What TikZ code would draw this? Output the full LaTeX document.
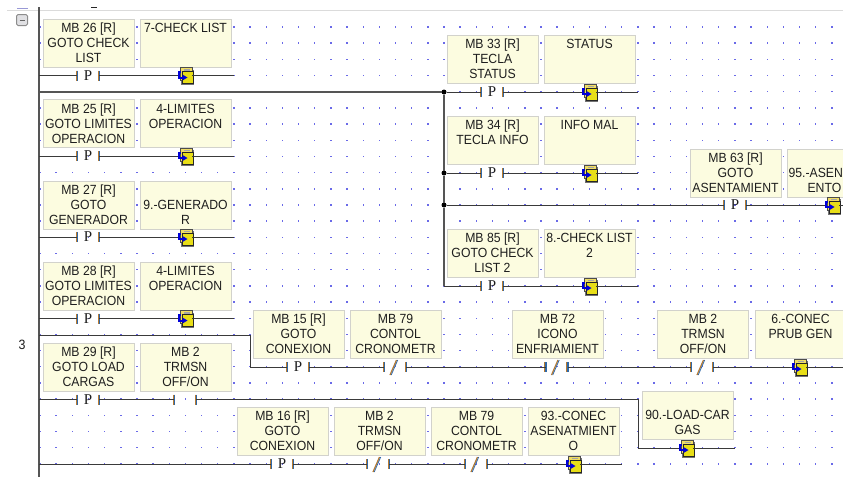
\documentclass[tikz,border=0pt]{standalone}
\usepackage{fontspec}
\setmainfont{Liberation Sans}[FakeStretch=0.92]
\newfontfamily\pfont{Liberation Serif}
\definecolor{boxfill}{HTML}{FCFCE0}
\definecolor{boxedge}{HTML}{D2D2CC}
\definecolor{wirec}{HTML}{3A3A3A}
\definecolor{railc}{HTML}{555555}
\definecolor{dotc}{HTML}{6A6AE8}
\definecolor{baror}{HTML}{B87A30}
\definecolor{barbl}{HTML}{2F68A8}
\definecolor{txtc}{HTML}{1E1E1E}
\tikzset{
  fbbox/.style={draw=boxedge,line width=1pt,fill=boxfill,anchor=north west,inner sep=0pt,outer sep=0pt,
    minimum width=91pt,minimum height=48pt,text=txtc,font=\fontsize{13.3}{15}\selectfont},
  wire/.style={draw=wirec,line width=1pt},
  rail/.style={draw=railc,line width=1.3pt},
  mainrail/.style={draw=railc,line width=1.1pt},
  contact/.style={inner sep=0pt,outer sep=0pt,minimum width=22pt,minimum height=10pt,text=txtc,font=\pfont\fontsize{15}{15}\selectfont},
  iconn/.style={inner sep=0pt,outer sep=0pt,minimum width=14pt,minimum height=8pt},
  junction/.style={circle,fill=black,inner sep=0pt,outer sep=0pt,minimum size=5pt},
}
\newcommand{\fbx}[4]{\node[fbbox] (#1) at (#2,#3) {\parbox[c][47pt][t]{90pt}{\centering\rule{0pt}{13pt}#4}};}
\newcommand{\contactbars}{%
  \draw[baror,line width=1.1pt] (-11.5,-5) -- (-11.5,5) (10.5,-5) -- (10.5,5);
  \draw[barbl,line width=1.1pt] (-10.5,-5) -- (-10.5,5) (11.5,-5) -- (11.5,5);}
\newcommand{\pct}[3]{\begin{scope}[shift={(#2,#3)}]\node[contact] (#1) at (0,0) {P};\contactbars\end{scope}}
\newcommand{\nct}[3]{\begin{scope}[shift={(#2,#3)}]\node[contact] (#1) at (0,0) {};\contactbars
  \draw[baror,line width=1.2pt] (-5,8) -- (1.5,-7);\draw[barbl,line width=.8pt] (-3.8,8) -- (2.7,-7);\end{scope}}
\newcommand{\oct}[3]{\begin{scope}[shift={(#2,#3)}]\node[contact] (#1) at (0,0) {};\contactbars\end{scope}}
\newcommand{\icn}[3]{\begin{scope}[shift={(#2,#3)}]\node[iconn] (#1) at (0,0) {};
  \fill[black!55] (-4,-6) rectangle (9,9.5);
  \draw[fill=yellow!65!brown!70,draw=black!70,line width=.8pt] (-5,-8) rectangle (7,5);
  \draw[fill=yellow!90!black,draw=black!85,line width=.8pt] (-3,-4) rectangle (8,8);
  \fill[black!35] (-1,-6.5) rectangle (5,-5);
  \draw[blue!85!black,line width=2pt] (-4,-3.5) -- (-6.5,-3.5) -- (-6.5,2) -- (-2,2);
  \fill[blue!85!black] (-2.5,-1) -- (2.5,2) -- (-2.5,5) -- cycle;
\end{scope}}
\begin{document}
\begin{tikzpicture}[x=1pt,y=-1pt]
\useasboundingbox (0,0) rectangle (843,477);
\fill[white] (0,0) rectangle (843,477);
\clip (0,0) rectangle (843,477);
% grid of dots
\foreach \i in {0,...,49}{\foreach \j in {0,...,27}{
  \fill[dotc] ({40+16.16*\i-.7},{27+16.18*\j-.7}) rectangle ++(1.4,1.4);}}
% window furniture
\fill[white] (0,0) rectangle (843,12);
\draw[black!14,line width=1.6pt] (7,10.5) -- (843,10.5);
\draw[black!85,line width=1pt] (91,7) -- (97,7);
\draw[black!40!blue!40,line width=1pt] (17,8) -- (28,8);
\draw[rounded corners=1.5pt,draw=black!45,fill=blue!10!black!12,line width=1pt] (16.5,14.5) rectangle (27.5,25.5);
\draw[black!60,line width=1pt] (19.5,20) -- (24.5,20);
\node[text=txtc,font=\fontsize{13.5}{15}\selectfont] (rung) at (22,345) {3};
% boxes
\fbx{a1}{43}{19}{MB 26 [R]\\GOTO CHECK\\LIST}
\fbx{a2}{140}{19}{7-CHECK LIST}
\fbx{b1}{43}{99.5}{MB 25 [R]\\GOTO LIMITES\\OPERACION}
\fbx{b2}{140}{99.5}{4-LIMITES\\OPERACION}
\fbx{c1}{43}{181}{MB 27 [R]\\GOTO\\GENERADOR}
\fbx{c2}{140}{181}{\mbox{}\\9.-GENERADO\\R}
\fbx{d1}{43}{262}{MB 28 [R]\\GOTO LIMITES\\OPERACION}
\fbx{d2}{140}{262}{4-LIMITES\\OPERACION}
\fbx{e1}{43}{343}{MB 29 [R]\\GOTO LOAD\\CARGAS}
\fbx{e2}{140}{343}{MB 2\\TRMSN\\OFF/ON}
\fbx{f1}{447}{35}{MB 33 [R]\\TECLA\\STATUS}
\fbx{f2}{544}{35}{STATUS}
\fbx{g1}{447}{116}{MB 34 [R]\\TECLA INFO}
\fbx{g2}{544}{116}{INFO MAL}
\fbx{h1}{447}{229}{MB 85 [R]\\GOTO CHECK\\LIST 2}
\fbx{h2}{544}{229}{8.-CHECK LIST\\2}
\fbx{i1}{690}{149}{MB 63 [R]\\GOTO\\ASENTAMIENT}
\node[fbbox] (i2) at (787,149) {\parbox[c][47pt][t]{90pt}{\rule{0pt}{13pt}\\\hspace*{1pt}95.-ASEN\\\hspace*{20pt}ENTO}};
\fbx{k1}{253}{310}{MB 15 [R]\\GOTO\\CONEXION}
\fbx{k2}{350}{310}{MB 79\\CONTOL\\CRONOMETR}
\fbx{k3}{512}{310}{MB 72\\ICONO\\ENFRIAMIENT}
\fbx{k4}{657.5}{310}{MB 2\\TRMSN\\OFF/ON}
\fbx{k5}{755}{310}{6.-CONEC\\PRUB GEN}
\fbx{m1}{237}{407}{MB 16 [R]\\GOTO\\CONEXION}
\fbx{m2}{334}{407}{MB 2\\TRMSN\\OFF/ON}
\fbx{m3}{431}{407}{MB 79\\CONTOL\\CRONOMETR}
\fbx{m4}{528}{407}{93.-CONEC\\ASENATMIENT\\O}
\fbx{n1}{642}{391}{\mbox{}\\90.-LOAD-CAR\\GAS}
% contacts and icons
\pct{pa}{88}{75.5}\icn{ia}{185}{75.5}
\pct{pb}{88}{156}\icn{ib}{185}{156}
\pct{pc}{88}{237}\icn{ic}{185}{237}
\pct{pd}{88}{318.5}\icn{id}{185}{318.5}
\pct{pe}{88}{399.5}\oct{qe}{185}{399.5}
\pct{pf}{492}{92}\icn{if}{589}{92}
\pct{pg}{492}{173}\icn{ig}{589}{173}
\pct{ph}{492}{286}\icn{ih}{589}{286}
\pct{pi}{735}{205}\icn{ii}{832}{205}
\pct{pk}{298}{367}\nct{qk}{395}{367}\nct{rk}{556.5}{367}\nct{sk}{702}{367}\icn{ik}{799}{367}
\pct{pm}{282}{464}\nct{qm}{378}{464}\nct{rm}{476}{464}\icn{im}{573}{464}
\icn{in}{686}{448}
\node[junction] (j1) at (444,92) {};
\node[junction] (j2) at (444,173) {};
\node[junction] (j3) at (444,205) {};
% free ends
\coordinate (top) at (39,7);\coordinate (bot) at (39,477);
\coordinate (ta) at (39,75.5);\coordinate (ea) at (234,75.5);
\coordinate (tb) at (39,156);\coordinate (eb) at (234,156);
\coordinate (tc) at (39,237);\coordinate (ec) at (234,237);
\coordinate (td) at (39,318.5);\coordinate (ed) at (234,318.5);
\coordinate (te) at (39,399.5);\coordinate (cn) at (638,399.5);\coordinate (dn) at (638,448);\coordinate (en) at (735,448);
\coordinate (tr) at (39,92);
\coordinate (ef) at (638,92);\coordinate (eg) at (638,173);\coordinate (ch) at (444,286);\coordinate (eh) at (638,286);
\coordinate (ei) at (843,205);
\coordinate (tk) at (39,335);\coordinate (uk) at (250,335);\coordinate (vk) at (250,367);\coordinate (ek) at (843,367);
\coordinate (tm) at (39,464);\coordinate (em) at (622,464);
% wires
\draw[mainrail] (top) -- (bot);
\draw[rail] (tr) -- (j1) -- (j2) -- (j3) -- (ch);
\draw[wire] (ta) -- (pa) -- (ia) -- (ea);
\draw[wire] (tb) -- (pb) -- (ib) -- (eb);
\draw[wire] (tc) -- (pc) -- (ic) -- (ec);
\draw[wire] (td) -- (pd) -- (id) -- (ed);
\draw[wire] (te) -- (pe) -- (qe) -- (cn) -- (dn) -- (in) -- (en);
\draw[wire] (j1) -- (pf) -- (if) -- (ef);
\draw[wire] (j2) -- (pg) -- (ig) -- (eg);
\draw[wire] (ch) -- (ph) -- (ih) -- (eh);
\draw[wire] (j3) -- (pi) -- (ii) -- (ei);
\draw[wire] (tk) -- (uk) -- (vk) -- (pk) -- (qk) -- (rk) -- (sk) -- (ik) -- (ek);
\draw[wire] (tm) -- (pm) -- (qm) -- (rm) -- (im) -- (em);
\end{tikzpicture}
\end{document}
